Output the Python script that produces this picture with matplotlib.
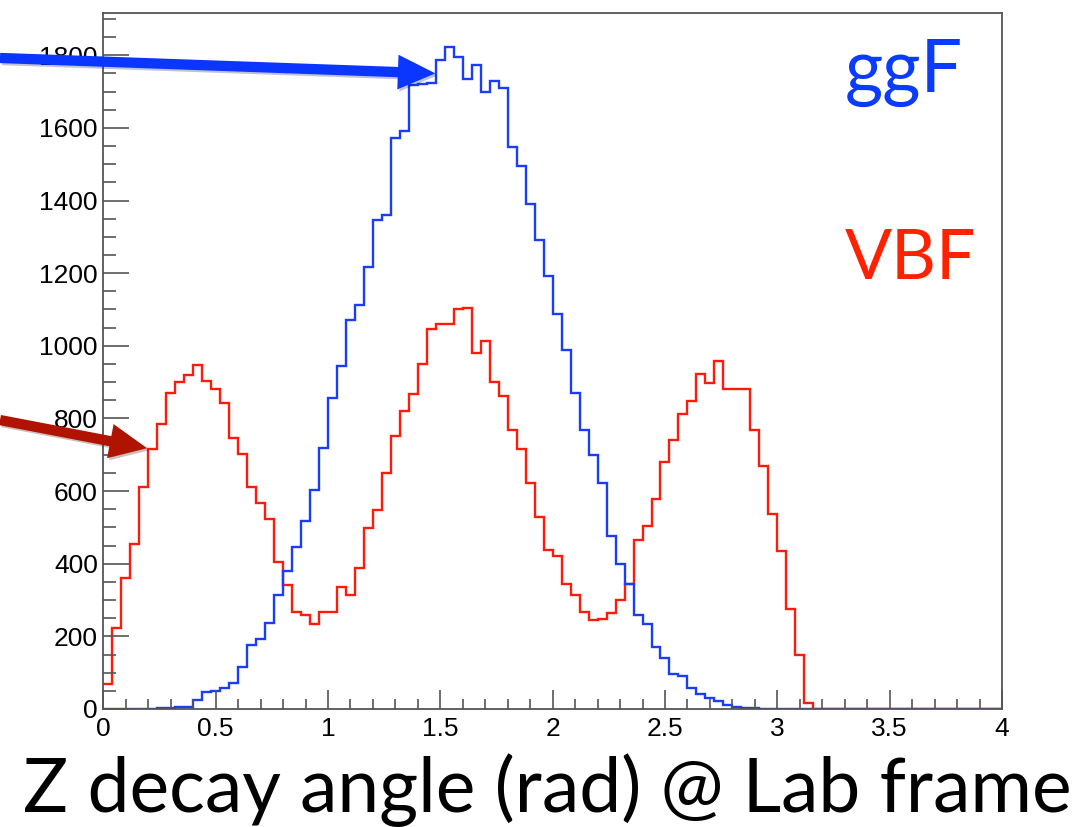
import numpy as np
import matplotlib
matplotlib.use("Agg")
import matplotlib.pyplot as plt
import matplotlib.patheffects as pe

# histogram: 100 bins of 0.04 rad between 0 and 4
edges = np.linspace(0, 4, 101)

vbf = [69, 222, 362, 455, 611, 715, 786, 871, 900, 919,
       947, 903, 880, 843, 745, 703, 611, 568, 523, 404,
       341, 266, 258, 235, 266, 266, 335, 314, 389, 497,
       549, 650, 752, 820, 868, 951, 1045, 1060, 1060, 1102,
       1105, 980, 1013, 900, 862, 767, 717, 622, 529, 439,
       421, 344, 314, 266, 245, 249, 265, 300, 343, 464,
       505, 578, 679, 740, 812, 849, 922, 898, 957, 880,
       880, 882, 767, 668, 537, 434, 276, 148, 16] + [0] * 21

ggf = [0, 0, 0, 0, 0, 0, 4, 4, 6, 6,
       25, 46, 50, 57, 72, 115, 176, 192, 238, 313,
       381, 445, 518, 602, 719, 856, 944, 1070, 1111, 1217,
       1347, 1359, 1573, 1592, 1717, 1720, 1724, 1788, 1824, 1796,
       1735, 1773, 1698, 1728, 1710, 1547, 1495, 1391, 1290, 1191,
       1087, 988, 871, 768, 699, 621, 476, 398, 344, 258,
       234, 172, 140, 96, 90, 58, 40, 29, 21, 10,
       6, 2, 2] + [0] * 27

xticks = [0, 0.5, 1, 1.5, 2, 2.5, 3, 3.5, 4]
xticklabels = ["0", "0.5", "1", "1.5", "2", "2.5", "3", "3.5", "4"]
yticks = [0, 200, 400, 600, 800, 1000, 1200, 1400, 1600, 1800]

fig = plt.figure(figsize=(10.81, 8.27), dpi=100)
ax = fig.add_axes([0.0956, 0.1427, 0.8313, 0.841])

ax.stairs(vbf, edges, baseline=None, color="#ff1a0a", lw=1.7)
ax.stairs(ggf, edges, baseline=None, color="#1a3cff", lw=1.7)

ax.set_xlim(0, 4)
ax.set_ylim(0, 1915)
ax.set_xticks(xticks)
ax.set_xticklabels(xticklabels)
ax.set_yticks(yticks)
ax.set_xticks(np.arange(0, 4.01, 0.1), minor=True)
ax.set_yticks(np.arange(0, 1915, 50), minor=True)

for lab in ax.get_xticklabels() + ax.get_yticklabels():
    lab.set_family("Liberation Sans")
    lab.set_fontsize(19)

ax.tick_params(axis="both", which="both", direction="in", color="#555555",
               top=False, right=False)
ax.tick_params(axis="y", which="major", length=19, width=1.2, pad=4)
ax.tick_params(axis="y", which="minor", length=9.5, width=1.2)
ax.tick_params(axis="x", which="major", length=14, width=1.2, pad=6)
ax.tick_params(axis="x", which="minor", length=7, width=1.2)
for s in ax.spines.values():
    s.set_color("#555555")
    s.set_linewidth(1.3)

# labels on the slide
fig.text(0.7817, 0.8888, "ggF", color="#0a3cff", fontsize=53,
         family="Lato", ha="left", va="baseline")
fig.text(0.7817, 0.6626, "VBF", color="#ff2200", fontsize=50,
         family="Lato", ha="left", va="baseline")
fig.text(0.506, 0.018, "Z decay angle (rad) @ Lab frame", color="black",
         fontsize=54, family="Lato", ha="center", va="baseline")

shadow = [pe.SimplePatchShadow(offset=(1.5, -1.5), alpha=0.25), pe.Normal()]
style = "simple,tail_width=0.37,head_width=1.25,head_length=1.35"
ax.annotate("", xy=(1.478, 1750), xycoords="data",
            xytext=(0.0, 0.9299), textcoords="figure fraction",
            arrowprops=dict(arrowstyle=style, mutation_scale=20,
                            color="#0a36ff", lw=0, shrinkA=0, shrinkB=0,
                            path_effects=shadow),
            annotation_clip=False)
ax.annotate("", xy=(0.195, 718), xycoords="data",
            xytext=(0.0, 0.4921), textcoords="figure fraction",
            arrowprops=dict(arrowstyle=style, mutation_scale=20,
                            color="#b01400", lw=0, shrinkA=0, shrinkB=0,
                            path_effects=shadow),
            annotation_clip=False)

fig.savefig("out.png", dpi=100)
